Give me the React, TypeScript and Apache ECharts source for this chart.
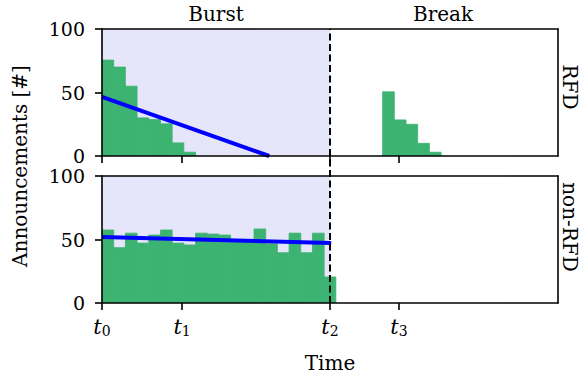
import React, { useEffect, useRef } from "react";
import * as echarts from "echarts";

// ---- data (x in histogram-bin units) ----
const tickValues = [0, 6.85, 19.5, 25.4];
const tickNames = ["0", "1", "2", "3"];
const burstEnd = 19.5;
const xMax = 39;

const rfdBurstStart = 0;
const rfdBurst = [75.5, 70, 55, 30, 28.7, 25.3, 10.3, 3];
const rfdBreakStart = 24;
const rfdBreak = [50.5, 28.4, 25, 10, 3];

const nonRfdStart = 0;
const nonRfd = [57.5, 43.6, 55, 47.2, 53.5, 57.5, 47.2, 45.7, 55, 54.3, 53.5, 50, 49, 58.3, 46.5, 39.6, 55, 39.6, 55, 20.5];

const rfdFit = [[0, 46.5], [14.3, 0]];
const nonRfdFit = [[0, 52], [19.6, 47.2]];

const FONT = "DejaVu Serif";
const GREEN = "#3cb371";
const LAV = "#e6e6fa";

function toPoints(start: number, vals: number[]) {
  return vals.map((v, i) => [start + i, v]);
}

export default function App() {
  const ref = useRef<HTMLDivElement>(null);
  useEffect(() => {
    const chart = echarts.init(ref.current!, null, { renderer: "svg" });
    const L = 102, R = 25;
    const grids = [
      { left: L, right: R, top: 29, height: 127 },
      { left: L, right: R, top: 176, height: 127 },
      { left: L, right: R, top: 29, height: 274 },
    ];
    const lineStyle = { color: "#000", width: 1.6 };
    const tick = { show: true, inside: false, length: 7, lineStyle: { color: "#000", width: 1.6 } };
    const mkX = (gi: number, pos: string, opts: any) => ({
      type: "value", gridIndex: gi, position: pos, min: 0, max: xMax, z: 10,
      axisLine: { show: true, onZero: false, lineStyle },
      axisTick: { show: false },
      axisLabel: { show: false },
      splitLine: { show: false },
      ...opts,
    });
    const mkY = (gi: number, pos: string, opts: any) => ({
      type: "value", gridIndex: gi, position: pos, min: 0, max: 100, interval: 50, z: 10,
      axisLine: { show: true, onZero: false, lineStyle },
      axisTick: { show: false },
      axisLabel: { show: false },
      splitLine: { show: false },
      ...opts,
    });
    const xTicks = { ...tick, customValues: tickValues };
    const yLabel = { show: true, margin: 17, color: "#000", fontFamily: FONT, fontSize: 19 };
    const custom = (xi: number, data: number[][]) => ({
      type: "custom", xAxisIndex: xi, yAxisIndex: xi, z: 2, clip: true,
      encode: { x: 0, y: 1 },
      data,
      renderItem: (params: any, api: any) => {
        const x = api.value(0), y = api.value(1);
        const p1 = api.coord([x, y]);
        const p2 = api.coord([x + 1, 0]);
        return {
          type: "rect",
          shape: { x: p1[0], y: p1[1], width: p2[0] - p1[0], height: p2[1] - p1[1] },
          style: { fill: GREEN, stroke: GREEN, lineWidth: 0.8 },
        };
      },
    });
    const area = (xi: number) => ({
      type: "line", xAxisIndex: xi, yAxisIndex: xi, z: 1, data: [], silent: true,
      markArea: { silent: true, itemStyle: { color: LAV, opacity: 1 }, data: [[{ xAxis: 0 }, { xAxis: burstEnd }]] },
    });
    const fit = (xi: number, data: number[][]) => ({
      type: "line", xAxisIndex: xi, yAxisIndex: xi, z: 4, data, showSymbol: false, symbol: "none",
      lineStyle: { color: "#0000ff", width: 4 }, clip: true,
    });
    const txt = (text: string, x: number, y: number, rot = 0) => ({
      type: "text", x, y, rotation: rot,
      style: { text, font: `20px '${FONT}'`, fill: "#000", align: "center", verticalAlign: "middle" },
    });
    chart.setOption({
      animation: false,
      grid: grids,
      xAxis: [
        mkX(0, "bottom", { axisTick: xTicks }),
        mkX(1, "bottom", {
          axisTick: xTicks,
          axisLabel: {
            show: true, customValues: tickValues, margin: 13, color: "#000",
            formatter: (v: number) => {
              const i = tickValues.findIndex((t) => Math.abs(t - v) < 1e-6);
              return i < 0 ? "" : `{t|t}{s|${tickNames[i]}}`;
            },
            rich: {
              t: { fontFamily: FONT, fontStyle: "italic", fontSize: 21, color: "#000", lineHeight: 22 },
              s: { fontFamily: FONT, fontSize: 14, color: "#000", verticalAlign: "bottom", lineHeight: 14, padding: [7, 0, 0, 0] },
            },
          },
          name: "Time", nameLocation: "middle", nameGap: 50,
          nameTextStyle: { fontFamily: FONT, fontSize: 20, color: "#000" },
        }),
        mkX(0, "top", {}),
        mkX(1, "top", {}),
        { type: "value", gridIndex: 2, min: 0, max: xMax, show: false },
      ],
      yAxis: [
        mkY(0, "left", { axisTick: tick, axisLabel: yLabel }),
        mkY(1, "left", { axisTick: tick, axisLabel: yLabel }),
        mkY(0, "right", {}),
        mkY(1, "right", {}),
        {
          type: "value", gridIndex: 2, min: 0, max: 1, position: "left",
          axisLine: { show: false }, axisTick: { show: false }, axisLabel: { show: false }, splitLine: { show: false },
          name: "Announcements [#]", nameLocation: "middle", nameGap: 72, nameRotate: 90,
          nameTextStyle: { fontFamily: FONT, fontSize: 20, color: "#000" },
        },
      ],
      series: [
        area(0),
        area(1),
        custom(0, [...toPoints(rfdBurstStart, rfdBurst), ...toPoints(rfdBreakStart, rfdBreak)]),
        custom(1, toPoints(nonRfdStart, nonRfd)),
        fit(0, rfdFit),
        fit(1, nonRfdFit),
        {
          type: "line", xAxisIndex: 4, yAxisIndex: 4, z: 6, symbol: "none",
          data: [[burstEnd, 0], [burstEnd, 1]],
          lineStyle: { color: "#000", width: 2, type: [7, 3.5] },
        },
      ],
      graphic: [
        txt("Burst", 216, 14),
        txt("Break", 443, 14),
        txt("RFD", 570, 87, -Math.PI / 2),
        txt("non-RFD", 570, 227, -Math.PI / 2),
      ],
    });
    return () => chart.dispose();
  }, []);
  return <div ref={ref} style={{ width: 583, height: 379, position: "absolute", left: 0, top: 0 }} />;
}
